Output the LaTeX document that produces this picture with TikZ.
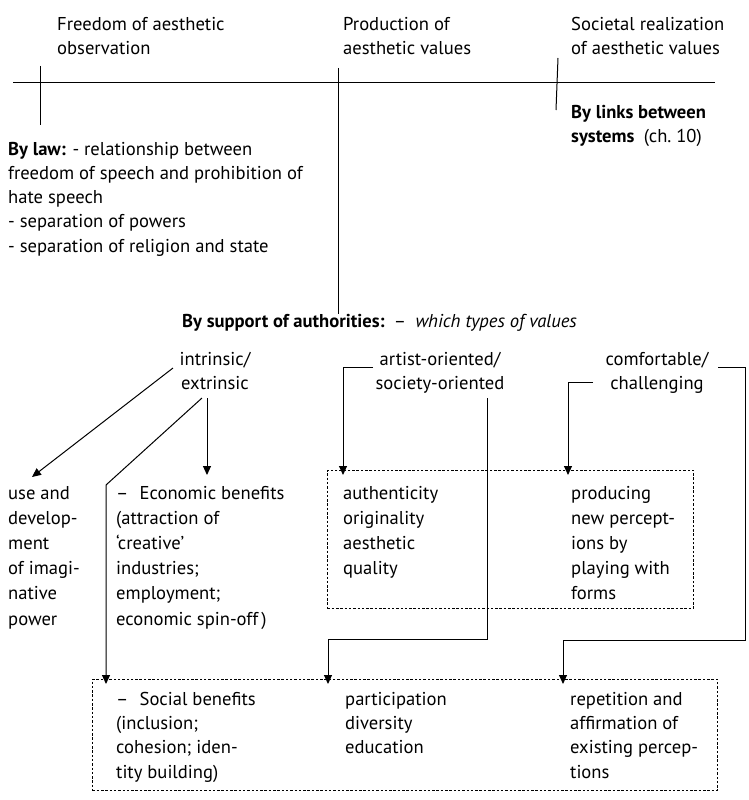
\documentclass[tikz,border=0pt]{standalone}
\usepackage{fontspec}
\setmainfont{PT Sans}
\usetikzlibrary{arrows.meta}
% multi-line nodes are placed by the baseline of their last line
\newcommand{\bodyfont}{\fontsize{18.6}{24.6}\selectfont}
\newcommand{\colfont}{\fontsize{18.6}{25.2}\selectfont}
\newcommand{\tightfont}{\fontsize{18.6}{24.3}\selectfont}
\tikzset{
  txt/.style={anchor=base west, align=left, inner sep=0pt, font=\bodyfont},
  ctxt/.style={anchor=base, align=center, inner sep=0pt, font=\bodyfont},
  ln/.style={line width=1pt, draw=black},
  arr/.style={ln, -{Triangle[length=9pt,width=8pt]}, shorten >=-5pt},
  dbox/.style={draw, dash pattern=on 2.5pt off 1.8pt, line width=0.8pt,
               inner sep=0pt, anchor=north west},
}
\begin{document}
\begin{tikzpicture}[x=1pt, y=-1pt]
\useasboundingbox (0,0) rectangle (748,800);

% time line with its three stages
\coordinate (tlL) at (13,82);
\coordinate (tlR) at (715,82);
\draw[ln] (tlL) -- (tlR);
\node[txt] (hdA) at (57,54.6) {Freedom of aesthetic\\observation};
\node[txt] (hdB) at (343,54.6) {Production of\\aesthetic values};
\node[txt] (hdC) at (571,54.6) {Societal realization\\of aesthetic values};
\coordinate (tkAt) at (40,66);  \coordinate (tkAb) at (40,125);
\coordinate (tkBt) at (338,68);
\coordinate (tkCt) at (558,58); \coordinate (tkCb) at (556,110);
\draw[ln] (tkAt) -- (tkAb);
\draw[ln] (tkCt) -- (tkCb);

\node[txt] (links) at (571,142.6) {\textbf{By links between}\\\textbf{systems}\enspace(ch.~10)};
\node[txt, font=\tightfont] (law) at (8,252.2)
  {\textbf{By law:} - relationship between\\freedom of speech and prohibition of\\hate speech\\- separation of powers\\- separation of religion and state};

\node[txt] (support) at (182,327)
  {\textbf{By support of authorities:}\enspace–\enspace\textit{which types of values}};
\draw[ln] (tkBt) -- (tkBt |- support.north);

% kinds of values
\node[ctxt] (ie) at (215,389.6) {intrinsic/\\extrinsic};
\node[ctxt] (ao) at (440,389.6) {artist-oriented/\\society-oriented};
\node[ctxt] (cc) at (657,389.6) {comfortable/\\challenging};

% outcomes
\node[txt, font=\colfont] (use) at (8,625) {use and\\develop-\\ment\\of imagi-\\native\\power};
\node[txt, font=\colfont] (econ) at (116,625) {–\hspace{0.6em}Economic benefits\\(attraction of\\‘creative’\\industries;\\employment;\\economic spin-off\,)};

\node[dbox, minimum width=366pt, minimum height=138pt] (upbox) at (327,470) {};
\node[txt, font=\colfont] (auth) at (343,574.6) {authenticity\\originality\\aesthetic\\quality};
\node[txt, font=\colfont] (prod) at (571,599.8) {producing\\new percept-\\ions by\\playing with\\forms};

\node[dbox, minimum width=625pt, minimum height=111pt] (lowbox) at (92,679) {};
\node[txt, font=\tightfont] (soc) at (116,778) {–\hspace{0.6em}Social benefits\\(inclusion;\\cohesion; iden-\\tity building)};
\node[txt, font=\tightfont] (part) at (345,753.6) {participation\\diversity\\education};
\node[txt, font=\tightfont] (rep) at (570,778) {repetition and\\affirmation of\\existing percep-\\tions};

% connectors
\coordinate (ieA) at (173,368);
\coordinate (useT) at (32,477);
\draw[ln, -{Triangle[length=9pt,width=8pt]}] (ieA) -- (useT);

\coordinate (ieB) at (207,398);
\draw[arr] (ieB) -- (ieB |- upbox.north);

\coordinate (ieC) at (202,398);
\coordinate (socK) at (106,485);
\draw[arr] (ieC) -- (socK) -- (socK |- lowbox.north);

\coordinate (aoA) at (373,367);
\coordinate (aoK) at (343,367);
\draw[arr] (aoA) -- (aoK) -- (aoK |- upbox.north);

\coordinate (aoB) at (487,398);
\coordinate (aoK1) at (487,639);
\coordinate (aoK2) at (328,639);
\draw[arr] (aoB) -- (aoK1) -- (aoK2) -- (aoK2 |- lowbox.north);

\coordinate (ccA) at (593,382);
\coordinate (ccK) at (568,382);
\draw[arr] (ccA) -- (ccK) -- (ccK |- upbox.north);

\coordinate (ccB) at (718,367);
\coordinate (ccK1) at (745,367);
\coordinate (ccK2) at (745,640);
\coordinate (ccK3) at (563,640);
\draw[arr] (ccB) -- (ccK1) -- (ccK2) -- (ccK3) -- (ccK3 |- lowbox.north);
\end{tikzpicture}
\end{document}
